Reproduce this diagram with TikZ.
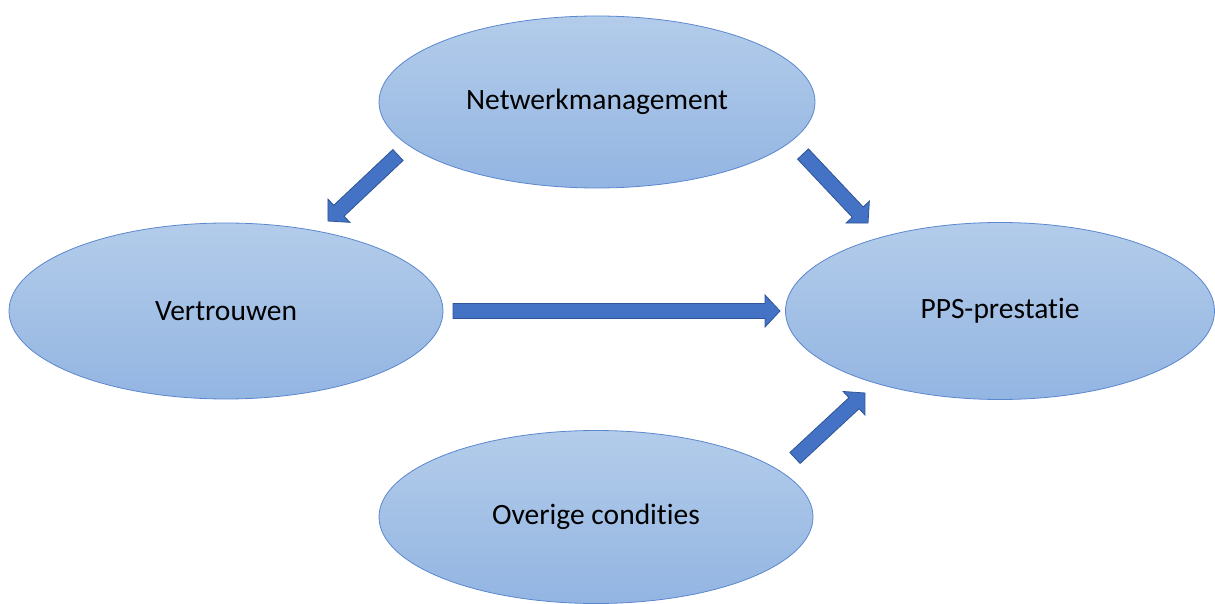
\documentclass[tikz,border=0pt]{standalone}
\usepackage{fontspec}
\setmainfont{Carlito}[Ligatures=NoCommon]
\usetikzlibrary{shapes.geometric,calc}
\definecolor{elltop}{HTML}{B3CCEA}
\definecolor{ellbot}{HTML}{93B5E2}
\definecolor{ellline}{HTML}{5B87CF}
\definecolor{arrfill}{HTML}{4472C4}
\definecolor{arrline}{HTML}{2F5597}
\tikzset{
  ellnode/.style={ellipse, draw=ellline, line width=0.8pt, top color=elltop, bottom color=ellbot, inner sep=0pt, font=\fontsize{29.5}{34}\selectfont, text=black},
  blockarrow/.style={fill=arrfill, draw=arrline, line width=0.8pt, line join=miter}
}
\newcommand\blockarr[3]{%
  \coordinate (#3h) at ($(#2)!15pt!(#1)$);
  \draw[blockarrow] ($(#1)!7.5pt!90:(#2)$) -- ($(#3h)!7.5pt!90:(#2)$) -- ($(#3h)!16pt!90:(#2)$) -- (#2) -- ($(#3h)!16pt!-90:(#2)$) -- ($(#3h)!7.5pt!-90:(#2)$) -- ($(#1)!7.5pt!-90:(#2)$) -- cycle;
}
\begin{document}
\begin{tikzpicture}[x=1pt,y=-1pt]
\useasboundingbox (0,0) rectangle (1215,604);
\fill[white] (0,0) rectangle (1215,604);
\node[ellnode, minimum width=436pt, minimum height=172pt] (nm) at (597,102) {Netwerkmanagement};
\node[ellnode, minimum width=434pt, minimum height=176pt] (vt) at (226,311) {Vertrouwen};
\node[ellnode, minimum width=429pt, minimum height=177pt] (pps) at (1000,311) {PPS-prestatie};
\node[ellnode, minimum width=434pt, minimum height=173pt] (oc) at (596,517) {Overige condities};
\coordinate (a1t) at (398,155);
\coordinate (a1h) at (328,221);
\coordinate (a2t) at (803,154);
\coordinate (a2h) at (868,223);
\coordinate (a3t) at (453,311);
\coordinate (a3h) at (780,311);
\coordinate (a4t) at (795,458);
\coordinate (a4h) at (865,393);
\blockarr{a1t}{a1h}{p}
\blockarr{a2t}{a2h}{q}
\blockarr{a3t}{a3h}{r}
\blockarr{a4t}{a4h}{s}
\end{tikzpicture}
\end{document}
